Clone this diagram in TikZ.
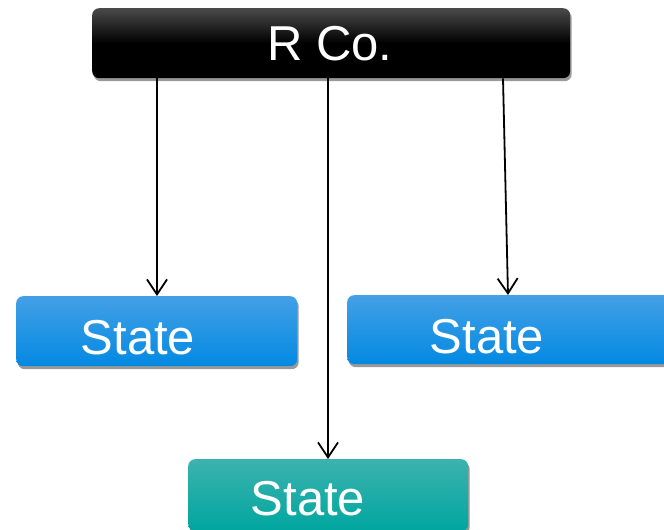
\documentclass[tikz,border=0pt]{standalone}
\usepackage{fontspec}
\setmainfont{Liberation Sans}
\usetikzlibrary{arrows.meta,shadows}
\definecolor{blueTop}{HTML}{43A0E6}
\definecolor{blueBot}{HTML}{0389E2}
\definecolor{tealTop}{HTML}{3CB2AE}
\definecolor{tealBot}{HTML}{00A69F}
\definecolor{headTop}{HTML}{4A4A4A}
\tikzset{
  box/.style={draw=none, rounded corners=7pt, anchor=north west, inner sep=0pt,
    drop shadow={shadow xshift=1.5pt, shadow yshift=-3pt, opacity=0.4, fill=black}},
  headbox/.style={box, top color=headTop, bottom color=black, middle color=black},
  statebox/.style={box, top color=blueTop, bottom color=blueBot},
  tealbox/.style={box, top color=tealTop, bottom color=tealBot},
  lbl/.style={text=white, font=\fontsize{49}{52}\selectfont, inner sep=0pt},
  link/.style={draw=black, line width=1.8pt, -{Straight Barb[length=15pt,width=20pt,line width=1.8pt]}}
}
\begin{document}
\begin{tikzpicture}[x=1pt,y=-1pt]
  \useasboundingbox (0,0) rectangle (664,530);
  \begin{scope}
    \clip (0,0) rectangle (664,530);
    % boxes
    \node[headbox, minimum width=478pt, minimum height=70pt] (co) at (92,8) {};
    \node[statebox, minimum width=281pt, minimum height=70pt] (s1) at (16,296) {};
    \node[statebox, minimum width=330pt, minimum height=69pt] (s2) at (347,295) {};
    \node[tealbox, minimum width=280pt, minimum height=72pt] (s3) at (188,459) {};
    % labels
    \node[lbl] (tco) at (330,44) {R Co.};
    \node[lbl] (t1) at (138,338) {State};
    \node[lbl] (t2) at (487,337) {State};
    \node[lbl] (t3) at (308,499) {State};
    % connectors
    \draw[link] (co.south -| 157,0) -- (s1.north -| 157,0);
    \draw[link] (co.south -| 328,0) -- (s3.north -| 328,0);
    \draw[link] (co.south -| 503,0) -- (s2.north -| 508,0);
  \end{scope}
\end{tikzpicture}
\end{document}
